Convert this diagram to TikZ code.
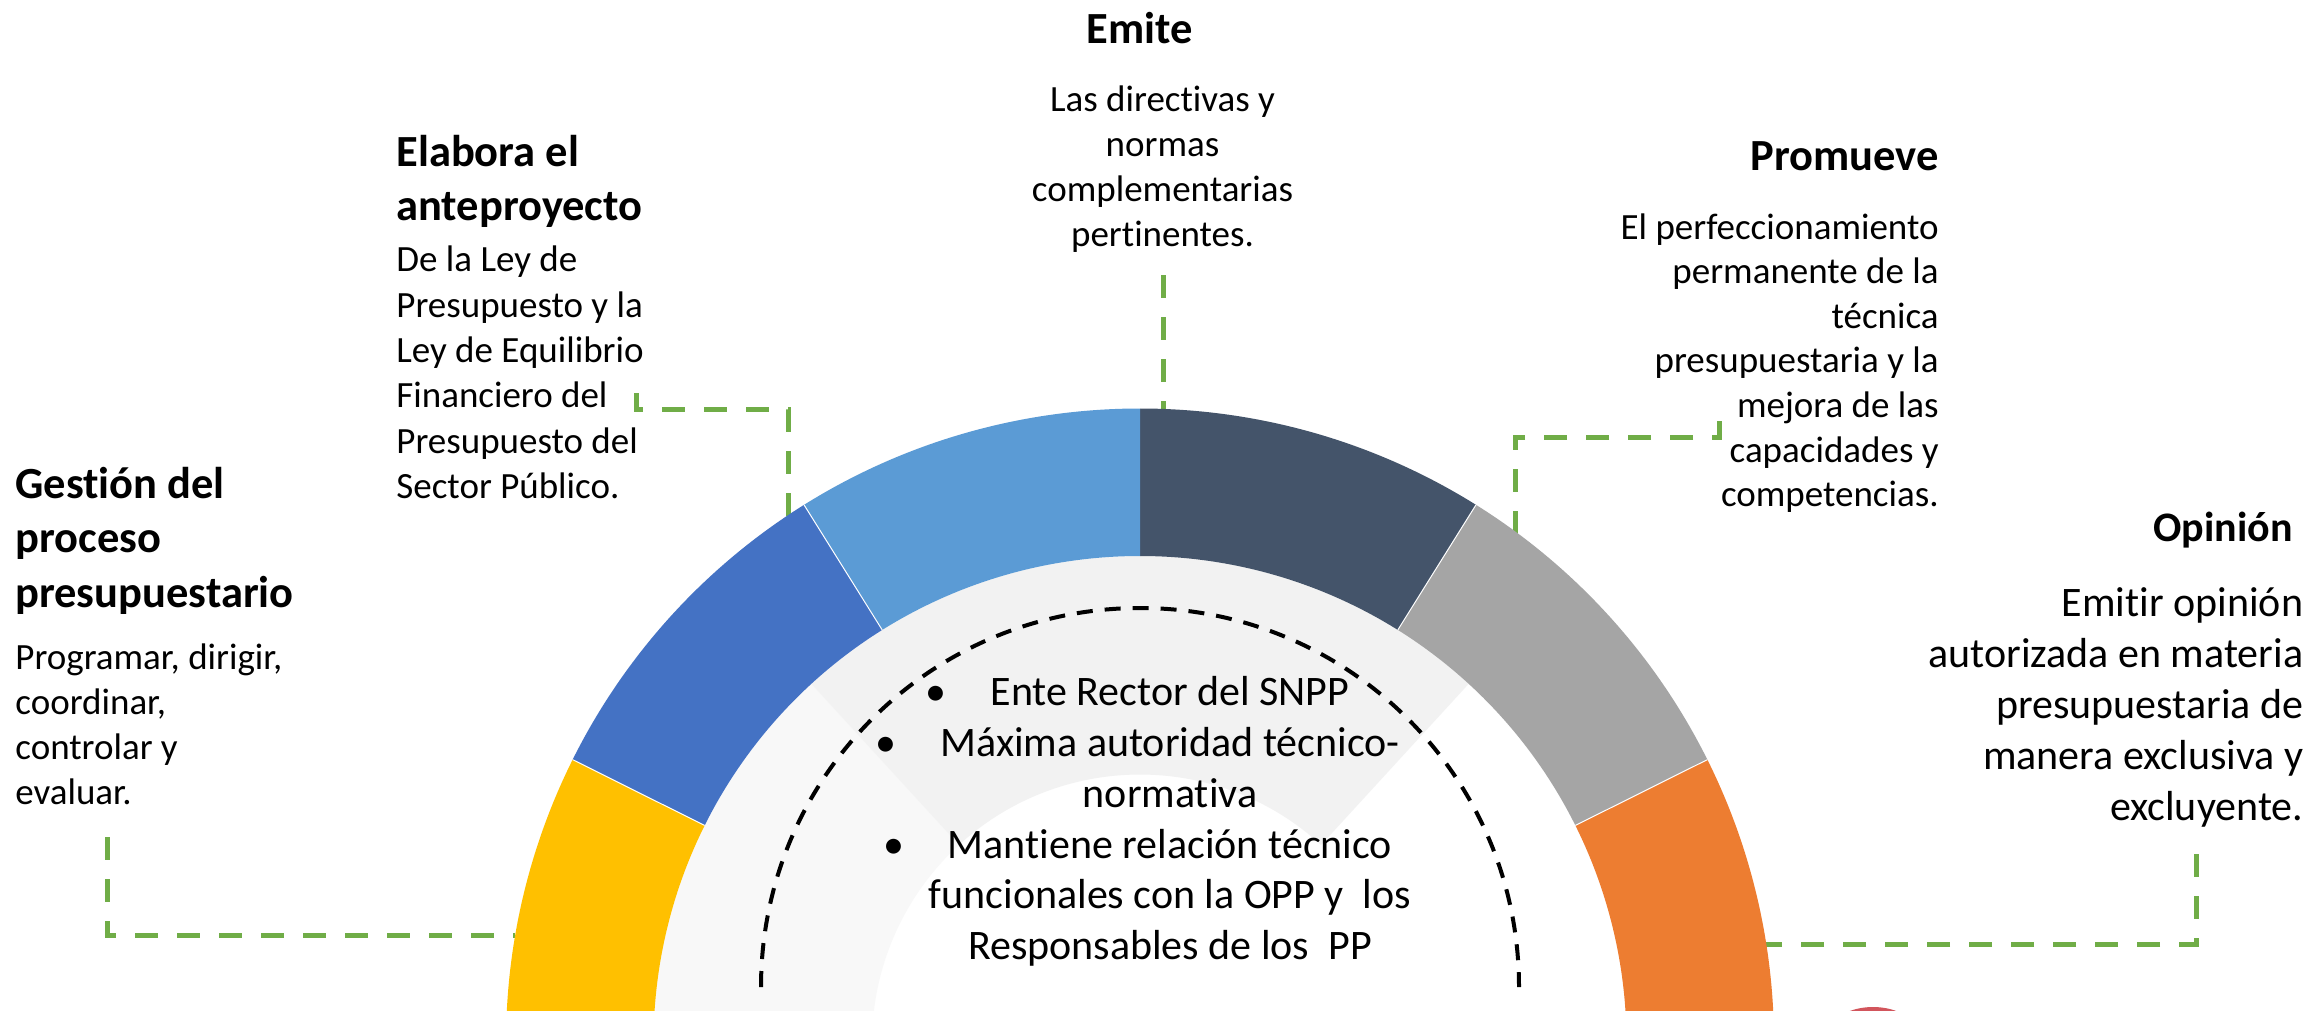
\documentclass[tikz,border=0pt]{standalone}
\usepackage{fontspec}
\setmainfont{Carlito}[Ligatures=NoCommon]
\usetikzlibrary{calc}
\definecolor{cYellow}{HTML}{FFC000}
\definecolor{cBlue}{HTML}{4472C4}
\definecolor{cLight}{HTML}{5B9BD5}
\definecolor{cDark}{HTML}{44546A}
\definecolor{cGray}{HTML}{A5A5A5}
\definecolor{cOrange}{HTML}{ED7D31}
\definecolor{cGreen}{HTML}{70AD47}
\definecolor{cTop}{HTML}{F2F2F2}
\definecolor{cLeft}{HTML}{F8F8F8}
\definecolor{cRed}{HTML}{D2555C}
\begin{document}
\begin{tikzpicture}[x=0.5pt,y=-0.5pt,
  head/.style={inner sep=0pt, font=\fontsize{22.25}{27.4}\selectfont\bfseries},
  body/.style={inner sep=0pt, font=\fontsize{18.5}{22.5}\selectfont},
  bigbody/.style={inner sep=0pt, font=\fontsize{21}{25.4}\selectfont},
  ctr/.style={inner sep=0pt, font=\fontsize{21}{25.5}\selectfont},
  conn/.style={cGreen, line width=2.5pt, dash pattern=on 11.5pt off 9.5pt},
  guide/.style={black, line width=2pt, dash pattern=on 8pt off 6pt}
]
\useasboundingbox (0,0) rectangle (2312,1011);
\fill[white] (0,0) rectangle (2312,1011);
\coordinate (C) at (1140,1042.5);

% connectors (free ends as coordinates)
\coordinate (g1) at (107,837);  \coordinate (g2) at (515,935);
\coordinate (e1) at (636,393);  \coordinate (e2) at (788,520);
\coordinate (m1) at (1163,275); \coordinate (m2) at (1163,412);
\coordinate (p1) at (1719,421); \coordinate (p2) at (1515,535);
\coordinate (o1) at (2196,854); \coordinate (o2) at (1766,944);
\draw[conn] (g1) |- (g2);
\draw[conn] (e1) -- (636,409) -| (e2);
\draw[conn] (m1) -- (m2);
\draw[conn] (p1) -- (1719,437) -| (p2);
\draw[conn] (o1) |- (o2);

\begin{scope}
\clip (0,0) rectangle (2312,1011);
% inner light ring
\fill[cLeft] ($(C)+(-132.5:486.5)$) arc[start angle=-132.5, end angle=-190, radius=486.5]
  -- ($(C)+(-190:268)$) arc[start angle=-190, end angle=-132.5, radius=268] -- cycle;
\fill[cTop] ($(C)+(-47.5:486.5)$) arc[start angle=-47.5, end angle=-132.5, radius=486.5]
  -- ($(C)+(-132.5:268)$) arc[start angle=-132.5, end angle=-47.5, radius=268] -- cycle;
% coloured ring
\foreach \a/\b/\col in {10/-26.5/cOrange, -26.5/-58/cGray, -58/-90/cDark, -90/-122/cLight, -122/-153.5/cBlue, -153.5/-190/cYellow}{
  \fill[\col] ($(C)+(\a:634)$) arc[start angle=\a, end angle=\b, radius=634]
    -- ($(C)+(\b:486.5)$) arc[start angle=\b, end angle=\a, radius=486.5] -- cycle;
}
\foreach \a in {-26.5,-58,-122,-153.5}{
  \draw[white, line width=0.5pt] ($(C)+(\a:486.5)$) -- ($(C)+(\a:634)$);
}
% small red fragment at the bottom edge
\fill[cRed] (1873,1035) ellipse [x radius=45, y radius=28];
\end{scope}

% dashed guide arc
\draw[guide] ($(1140,987)+(180:379)$) arc[start angle=180, end angle=360, radius=379];

% texts (multi-line nodes: base anchor = baseline of the last line)
\node[head, anchor=base west, align=left] (gh) at (15,607.6) {Gestión del\\proceso\\presupuestario};
\node[body, anchor=base west, align=left, font=\fontsize{18.5}{22.35}\selectfont] (gb) at (15,804) {Programar, dirigir,\\coordinar,\\controlar y\\evaluar.};
\node[head, anchor=base west, align=left, font=\fontsize{22.25}{27.2}\selectfont\bfseries] (eh) at (396,220.4) {Elabora el\\anteproyecto};
\node[body, anchor=base west, align=left, font=\fontsize{18.5}{22.7}\selectfont] (eb) at (396,498.7) {De la Ley de\\Presupuesto y la\\Ley de Equilibrio\\Financiero del\\Presupuesto del\\Sector Público.};
\node[head, anchor=base] (mh) at (1140,43.3) {Emite};
\node[body, anchor=base, align=center] (mb) at (1162.5,246.7) {Las directivas y\\normas\\complementarias\\pertinentes.};
\node[head, anchor=base east] (ph) at (1939,170) {Promueve};
\node[body, anchor=base east, align=right, font=\fontsize{18.5}{22.3}\selectfont] (pb) at (1939,506.7) {El perfeccionamiento\\permanente de la\\técnica\\presupuestaria y la\\mejora de las\\capacidades y\\competencias.};
\node[head, anchor=base east, font=\fontsize{21}{25}\selectfont\bfseries] (oh) at (2293,541) {Opinión};
\node[bigbody, anchor=base east, align=right] (ob) at (2303.6,820) {Emitir opinión\\autorizada en materia\\presupuestaria de\\manera exclusiva y\\excluyente.};

\node[ctr, anchor=base] (c1) at (1170,705) {Ente Rector del SNPP};
\node[ctr, anchor=base, align=center] (c2) at (1170,807) {Máxima autoridad técnico-\\normativa};
\node[ctr, anchor=base] (c3) at (1170,858) {Mantiene relación técnico};
\node[ctr, anchor=base, align=center] (c4) at (1170,959.5) {funcionales con la OPP y\ \ los\\Responsables de los\ \ PP};
\node[ctr, anchor=base] (b1) at ($(c1.base west)+(-54,0)$) {\textbullet};
\node[ctr, anchor=base] (b2) at ($(c2.base west)+(-54,-51)$) {\textbullet};
\node[ctr, anchor=base] (b3) at ($(c3.base west)+(-54,0)$) {\textbullet};
\end{tikzpicture}
\end{document}
